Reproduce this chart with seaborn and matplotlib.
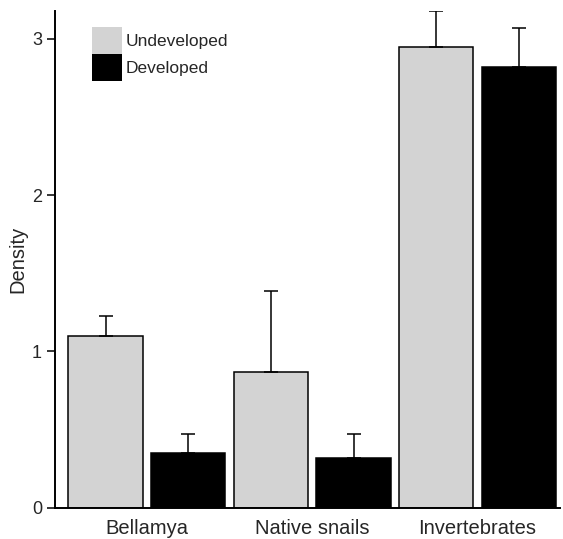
import matplotlib
matplotlib.use("Agg")
import matplotlib.pyplot as plt
import seaborn as sns
import pandas as pd
import numpy as np

# Values
categories = ["Bellamya", "Native snails", "Invertebrates"]
conditions = ["Undeveloped", "Developed"]
undeveloped = [1.10, 0.87, 2.95]
developed = [0.35, 0.32, 2.82]
undeveloped_err = [0.13, 0.52, 0.23]
developed_err = [0.12, 0.15, 0.25]
y_ticks = [0, 1, 2, 3]

colors = {"Undeveloped": "#d3d3d3", "Developed": "#000000"}

df = pd.DataFrame({
    "group": categories * 2,
    "site": ["Undeveloped"] * 3 + ["Developed"] * 3,
    "density": undeveloped + developed,
})

sns.set_style("ticks")
plt.rcParams["font.family"] = ["Liberation Sans", "DejaVu Sans"]

fig = plt.figure(figsize=(5.63, 5.39), dpi=100)
ax = fig.add_axes([0.098, 0.058, 0.897, 0.922])

sns.barplot(data=df, x="group", y="density", hue="site", hue_order=conditions,
            palette=colors, width=1.0, gap=0.1, errorbar=None,
            edgecolor="black", linewidth=1.1, ax=ax)

# upward-only error bars on top of each bar
for cont, errs in zip(ax.containers, [undeveloped_err, developed_err]):
    xs = [b.get_x() + b.get_width() / 2 for b in cont]
    hs = [b.get_height() for b in cont]
    ax.errorbar(xs, hs, yerr=[np.zeros(len(errs)), errs], fmt="none",
                ecolor="black", elinewidth=1.1, capsize=5, capthick=1.1, zorder=1)

ax.set_xlim(-0.555, 2.5)
ax.set_ylim(0, 3.18)
ax.set_yticks(y_ticks)
ax.set_xlabel("")
ax.set_ylabel("Density", fontsize=14.5, labelpad=3)
ax.tick_params(axis="x", length=0, labelsize=14.5, pad=8)
ax.tick_params(axis="y", length=6, width=1.3, labelsize=13)
sns.despine(ax=ax)
for s in ["left", "bottom"]:
    ax.spines[s].set_linewidth(1.4)
    ax.spines[s].set_color("black")

leg = ax.legend(loc="upper left", bbox_to_anchor=(0.056, 0.985), frameon=False,
                fontsize=12.5, handlelength=1.7, handleheight=2.0,
                labelspacing=0.0, handletextpad=0.25, borderpad=0)
for h in leg.legend_handles:
    h.set_edgecolor("none")

fig.savefig("out.png", dpi=100)
